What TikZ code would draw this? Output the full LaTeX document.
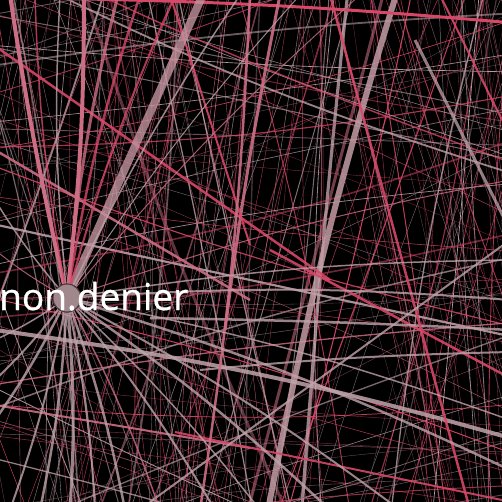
\documentclass[tikz,border=0pt]{standalone}
\usepackage{fontspec}
\setmainfont{Open Sans}
\newfontfamily\labelfont[FakeBold=0.9]{Open Sans}
\usetikzlibrary{positioning}

\definecolor{edgeRed}{RGB}{214,72,104}
\definecolor{edgeRose}{RGB}{204,110,132}
\definecolor{edgeGray}{RGB}{192,164,170}
\definecolor{edgeDark}{RGB}{130,100,108}
\definecolor{nodeFill}{RGB}{160,136,140}
\definecolor{nodeLine}{RGB}{70,58,62}

\tikzset{
  edge/.style={line cap=butt},
  hub/.style={circle,minimum size=28pt,inner sep=0pt,fill=nodeFill,draw=nodeLine,line width=1pt},
  name label/.style={text=white,inner sep=0pt,font=\labelfont\fontsize{37}{42}\selectfont}
}
\pgfmathdeclarerandomlist{edgecols}{{edgeRed}{edgeRed}{edgeRose}{edgeGray}{edgeGray}{edgeDark}}

\begin{document}
\begin{tikzpicture}[x=1pt,y=-1pt]
  \useasboundingbox (0,0) rectangle (502,502);
  \fill[black] (0,0) rectangle (502,502);
  \clip (0,0) rectangle (502,502);

  % background edges, steep
  \pgfmathsetseed{11}
  \foreach \i in {1,...,180}{
    \pgfmathsetmacro\ax{rnd*760-130}
    \pgfmathsetmacro\bx{\ax+rnd*420-210}
    \pgfmathsetmacro\w{0.3+3.2*rnd*rnd*rnd}
    \pgfmathsetmacro\op{0.45+0.5*rnd}
    \pgfmathsetmacro\bd{rnd*10-5}
    \pgfmathrandomitem{\c}{edgecols}
    \draw[edge,draw=\c,line width=\w pt,draw opacity=\op] (\ax,-10) to[bend left=\bd] (\bx,512);
  }
  % background edges, shallow
  \foreach \i in {1,...,90}{
    \pgfmathsetmacro\ay{rnd*760-130}
    \pgfmathsetmacro\by{\ay+rnd*500-250}
    \pgfmathsetmacro\w{0.3+3.2*rnd*rnd*rnd}
    \pgfmathsetmacro\op{0.45+0.5*rnd}
    \pgfmathsetmacro\bd{rnd*10-5}
    \pgfmathrandomitem{\c}{edgecols}
    \draw[edge,draw=\c,line width=\w pt,draw opacity=\op] (-10,\ay) to[bend left=\bd] (512,\by);
  }

  % heavier edges
  \draw[edge,edgeGray!85!edgeRose,line width=6pt,draw opacity=.85] (396,-5) to[bend right=3] (268,510);
  \draw[edge,edgeRed,line width=3pt] (30,-2) to[bend left=2] (502,22);
  \draw[edge,edgeRed,line width=2.5pt,draw opacity=.9] (-5,46) -- (330,280);
  \draw[edge,edgeRed,line width=2.5pt,draw opacity=.9] (270,250) -- (510,378);
  \draw[edge,edgeGray,line width=4pt,draw opacity=.85] (-5,330) to[bend left=4] (510,438);
  \draw[edge,edgeGray,line width=2.5pt,draw opacity=.8] (150,318) to[bend left=1] (510,330);
  \draw[edge,edgeGray,line width=2pt,draw opacity=.8] (200,370) to[bend left=2] (510,352);
  \draw[edge,edgeRed,line width=2.5pt,draw opacity=.9] (330,-5) -- (470,510);
  \draw[edge,edgeGray,line width=3pt,draw opacity=.75] (415,40) -- (510,230);
  \draw[edge,edgeRose,line width=3pt,draw opacity=.9] (280,-5) to[bend right=2] (225,330);
  \draw[edge,edgeRose,line width=2pt,draw opacity=.9] (-5,405) -- (250,448);
  \draw[edge,edgeRed,line width=2pt,draw opacity=.9] (175,432) -- (502,500);
  \draw[edge,edgeRed,line width=2pt,draw opacity=.9] (170,-5) -- (250,245);
  \draw[edge,edgeGray,line width=2pt,draw opacity=.8] (510,240) -- (150,502);
  \draw[edge,edgeRose,line width=2.5pt,draw opacity=.9] (-5,150) -- (250,300);
  \draw[edge,edgeRed,line width=2pt,draw opacity=.9] (440,-5) -- (502,120);
  \draw[edge,edgeRose,line width=2.5pt,draw opacity=.9] (250,-5) to[bend left=3] (200,510);

  % the hub and its edges
  \node[hub] (nd) at (67,298) {};
  \coordinate (up1) at (205,-10);
  \draw[edge,edgeGray!70!edgeRose,line width=8pt,draw opacity=.8] (nd) -- (up1);
  \draw[edge,edgeRose,line width=4pt] (nd) to[bend right=3] (84,-5);
  \draw[edge,edgeRose,line width=4pt] (nd) to[bend left=2] (10,-5);
  \foreach \ex/\ey/\w/\c in {140/-5/2.5/edgeRed, 118/-5/3/edgeRose, 175/-5/2/edgeRed,
      60/-5/1.5/edgeGray, 35/-5/1.5/edgeRed, 240/-5/1.5/edgeGray, 300/-5/1/edgeGray,
      -5/200/1.5/edgeGray, -5/250/1/edgeRose, -5/340/1.5/edgeGray, -5/380/2/edgeGray,
      -5/420/2.5/edgeGray, 10/510/2/edgeGray, 40/510/2.5/edgeGray, 70/510/3/edgeGray,
      95/510/2/edgeGray, 125/510/2.5/edgeGray, 160/510/1.5/edgeRose, 215/510/2/edgeGray,
      260/510/1.5/edgeGray, 330/510/2.5/edgeGray, 400/510/2/edgeGray, 510/470/2.5/edgeGray,
      510/420/1.5/edgeGray, 510/260/1.5/edgeGray, 510/180/1/edgeRose, 510/300/2/edgeGray,
      360/-5/1/edgeRose}{
    \draw[edge,draw=\c,line width=\w pt,draw opacity=.8] (nd) to[bend left=4] (\ex,\ey);
  }
  \node[hub] at (nd) {};
  \node[name label,anchor=base west] (ndlabel) at (-1,310) {non.denier};
\end{tikzpicture}
\end{document}
